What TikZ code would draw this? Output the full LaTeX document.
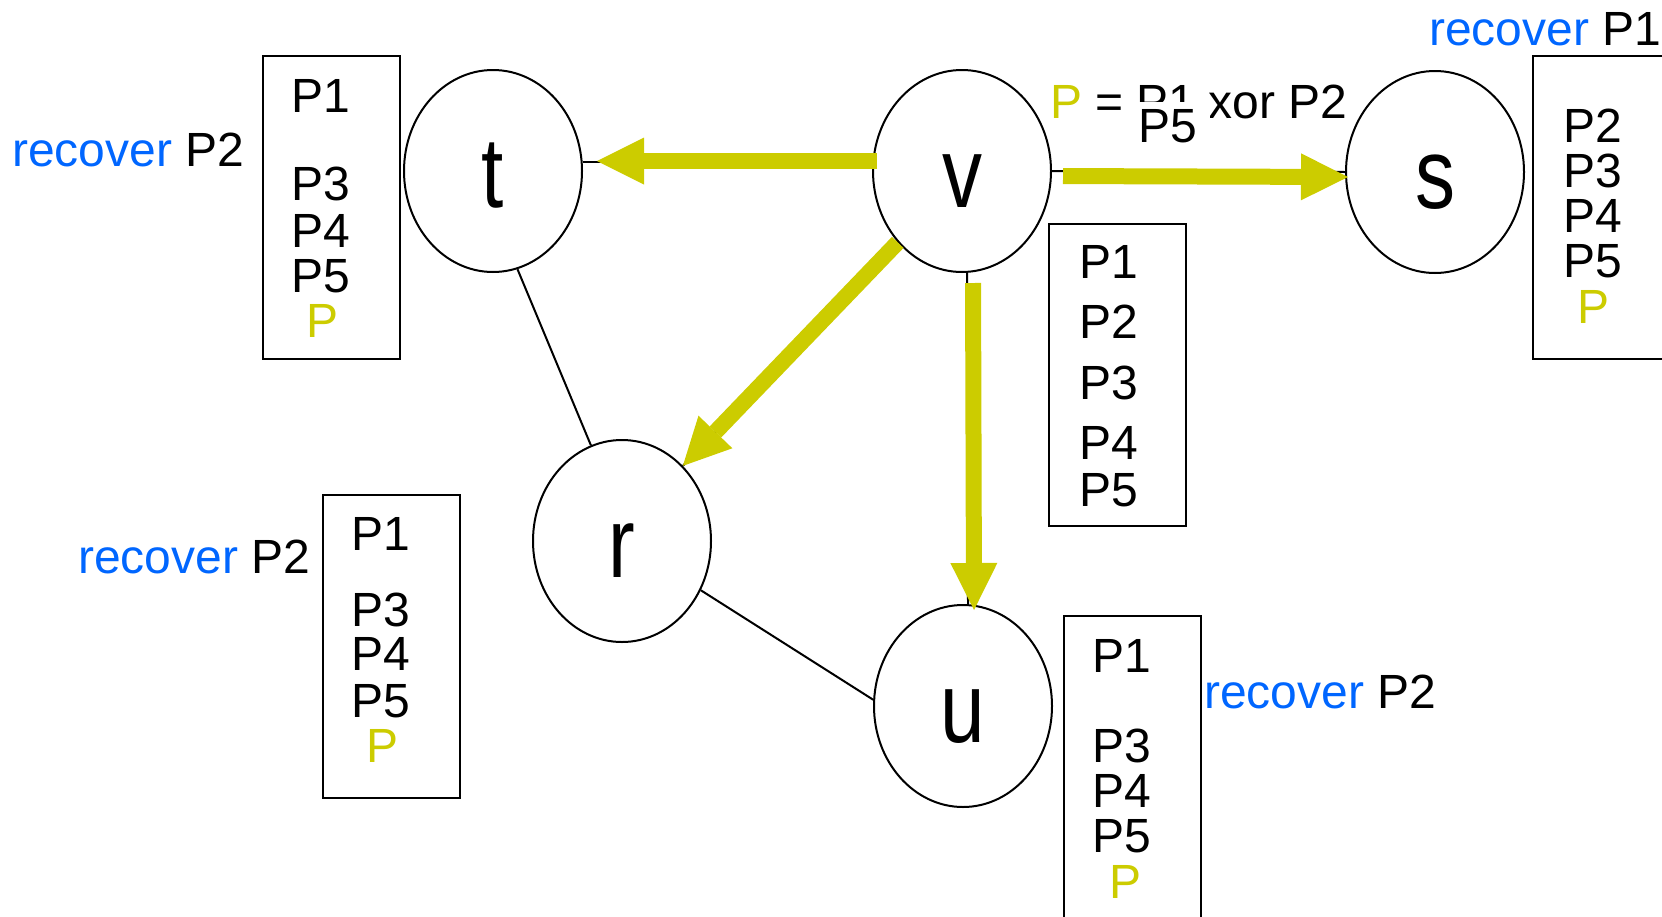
\documentclass[tikz,border=0pt]{standalone}
\usepackage{graphicx}
\usepackage{fontspec}
\setmainfont{Liberation Sans}
\usetikzlibrary{shapes.geometric,arrows.meta}
\definecolor{pyel}{RGB}{204,204,0}
\definecolor{recblue}{RGB}{0,102,255}
\newcommand{\narrowlet}[1]{\scalebox{0.8}[1]{#1}}

\begin{document}
\begin{tikzpicture}[x=1pt,y=-1pt,
	vertex/.style={ellipse,draw,line width=2pt,minimum width=178pt,minimum height=202pt,inner sep=0pt,text height=72pt,text depth=0pt,font=\fontsize{100}{100}\selectfont},
	pbox/.style={draw,line width=2pt,anchor=north west,minimum width=137pt,minimum height=303pt,inner sep=0pt},
	pline/.style={anchor=base,inner sep=0pt,font=\fontsize{48}{50}\selectfont},
	rec/.style={anchor=base west,inner sep=0pt,font=\fontsize{48}{50}\selectfont},
	link/.style={draw,line width=2pt},
	flow/.style={draw=pyel,line width=16pt,-{Triangle[length=47pt,width=47pt,line width=0pt]}}]
	\useasboundingbox (0,0) rectangle (1662,916);
	% nodes
	\node[vertex] (t) at (493,171) {\narrowlet{t}};
	\node[vertex] (v) at (962,171) {\narrowlet{v}};
	\node[vertex] (s) at (1435,172) {\narrowlet{s}};
	\node[vertex] (r) at (622,541) {\narrowlet{r}};
	\node[vertex] (u) at (963,706) {\narrowlet{u}};
	% packet boxes
	\node[pbox] (tbox) at (262,55) {};
	\foreach \lab/\yy in {P1/112,P3/200,P4/247,P5/292} \node[pline] (t\lab) at (321,\yy) {\lab};
	\node[pline,text=pyel] (tP) at (323,337) {P};
	\node[pbox,minimum height=302pt] (vbox) at (1048,223) {};
	\foreach \lab/\yy in {P1/278,P2/338,P3/399,P4/459,P5/506} \node[pline] (v\lab) at (1109,\yy) {\lab};
	\node[pbox] (sbox) at (1532,55) {};
	\foreach \lab/\yy in {P2/142,P3/187,P4/232,P5/277} \node[pline] (s\lab) at (1593,\yy) {\lab};
	\node[pline,text=pyel] (sP) at (1593,323) {P};
	\node[pbox] (rbox) at (322,494) {};
	\foreach \lab/\yy in {P1/550,P3/626,P4/670,P5/717} \node[pline] (r\lab) at (381,\yy) {\lab};
	\node[pline,text=pyel] (rP) at (383,762) {P};
	\node[pbox] (ubox) at (1063,615) {};
	\foreach \lab/\yy in {P1/672,P3/762,P4/807,P5/852} \node[pline] (u\lab) at (1122,\yy) {\lab};
	\node[pline,text=pyel] (uP) at (1125,898) {P};
	% labels
	\node[rec] (tlab) at (12,166) {\textcolor{recblue}{recover} P2};
	\node[rec] (rlab) at (78,573) {\textcolor{recblue}{recover} P2};
	\node[rec] (ulab) at (1204,708) {\textcolor{recblue}{recover} P2};
	\node[rec] (slab) at (1429,45) {\textcolor{recblue}{recover} P1};
	\node[rec] (xorlab) at (1050,118) {\textcolor{pyel}{P} = P1 xor P2};
	\node[rec,anchor=base,fill=white,inner xsep=13pt,inner ysep=7pt] (over) at (1168,142) {P5};
	% links
	\draw[link] (t.284) -- (r.108);
	\draw[link] (r.328) -- (u.176);
	\draw[link] ([yshift=9pt]t.east) -- ([yshift=9pt]v.west);
	\draw[link] (v.east) -- (s.west);
	\draw[link] ([xshift=5pt]v.south) -- ([xshift=5pt]u.north);
	\draw[link] (v.228) -- (r.51);
	% coded packet flow
	\draw[flow,shorten <=-5pt,shorten >=14pt] ([yshift=10pt]v.west) -- ([yshift=10pt]t.east);
	\draw[flow,shorten <=11pt,shorten >=-3pt] ([yshift=-5pt]v.east) -- ([yshift=-5pt]s.west);
	\draw[flow] (v.228) -- (r.51);
	\draw[flow,shorten <=10pt,shorten >=-6pt] ([xshift=11pt]v.south) -- ([xshift=11pt]u.north);
\end{tikzpicture}
\end{document}
